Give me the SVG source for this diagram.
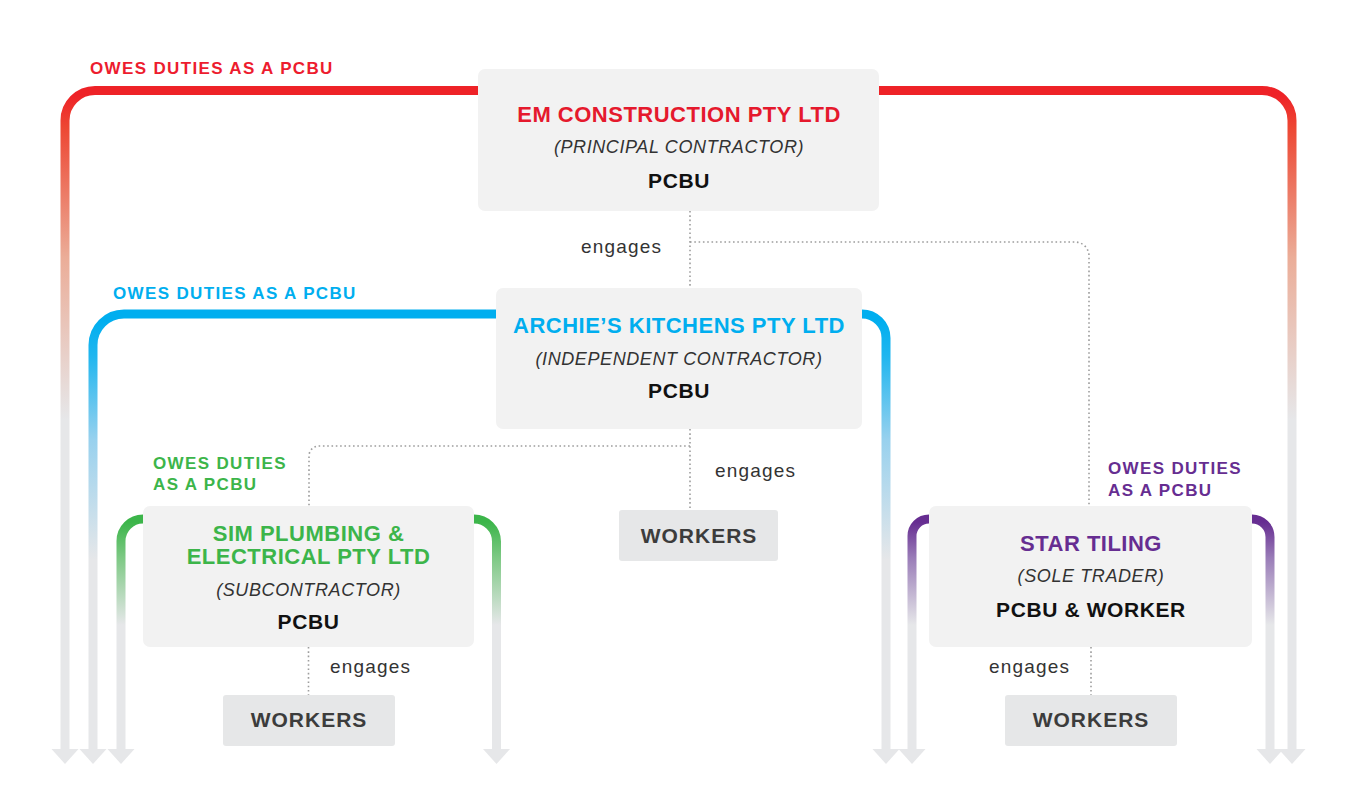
<svg xmlns="http://www.w3.org/2000/svg" width="1362" height="791" viewBox="0 0 1362 791">
<defs>
<linearGradient id="gRed" gradientUnits="userSpaceOnUse" x1="0" y1="95" x2="0" y2="420">
<stop offset="0" stop-color="#ee2227"/><stop offset="0.1" stop-color="#ed4733"/><stop offset="0.5" stop-color="#ebad98"/><stop offset="1" stop-color="#e6e7e9"/>
</linearGradient>
<linearGradient id="gBlue" gradientUnits="userSpaceOnUse" x1="0" y1="320" x2="0" y2="560">
<stop offset="0" stop-color="#00aeef"/><stop offset="0.15" stop-color="#20b6ef"/><stop offset="0.5" stop-color="#98d1ee"/><stop offset="1" stop-color="#e6e7e9"/>
</linearGradient>
<linearGradient id="gGreen" gradientUnits="userSpaceOnUse" x1="0" y1="522" x2="0" y2="625">
<stop offset="0" stop-color="#3cb54a"/><stop offset="0.35" stop-color="#7ec985"/><stop offset="1" stop-color="#e6e7e9"/>
</linearGradient>
<linearGradient id="gPurple" gradientUnits="userSpaceOnUse" x1="0" y1="522" x2="0" y2="625">
<stop offset="0" stop-color="#662d91"/><stop offset="0.35" stop-color="#9a7db8"/><stop offset="1" stop-color="#e6e7e9"/>
</linearGradient>
<polygon id="ah" points="-13.5,0 13.5,0 0,15" fill="#e6e7e9"/>
</defs>
<style>
.duty{fill:none;stroke-width:9}
.dot{fill:none;stroke:#9d9d9d;stroke-width:1.6;stroke-dasharray:1.6 2.7}
.box{fill:#f2f2f2}
.wbox{fill:#e6e7e8}
text{font-family:"Liberation Sans",Arial,sans-serif;text-anchor:middle}
.lbl{font-size:17px;font-weight:bold;letter-spacing:1.35px;text-anchor:start}
.name{font-size:22px;font-weight:bold;letter-spacing:0.5px}
.role{font-size:18px;font-style:italic;fill:#333;letter-spacing:0.6px}
.pcbu{font-size:21px;font-weight:bold;fill:#111;letter-spacing:0.6px}
.wk{font-size:21px;font-weight:bold;fill:#3c3c3c;letter-spacing:1px}
.eng{font-size:19px;fill:#333;letter-spacing:1.2px;text-anchor:start}
</style>
<rect width="1362" height="791" fill="#ffffff"/>

<g id="connectors">
<path class="duty" stroke="url(#gRed)" d="M479,90.5 H95 A30,30 0 0 0 65,120.5 V750"/>
<path class="duty" stroke="url(#gRed)" d="M879,90.5 H1262 A30,30 0 0 1 1292,120.5 V750"/>
<path class="duty" stroke="url(#gBlue)" d="M496,314 H124 A31,31 0 0 0 93,345 V750"/>
<path class="duty" stroke="url(#gBlue)" d="M862,314 A24,24 0 0 1 886,338 V750"/>
<path class="duty" stroke="url(#gGreen)" d="M143,519 A22,22 0 0 0 121,541 V750"/>
<path class="duty" stroke="url(#gGreen)" d="M474,519 A22.5,22.5 0 0 1 496.5,541.5 V750"/>
<path class="duty" stroke="url(#gPurple)" d="M929,519 A17,17 0 0 0 912,536 V750"/>
<path class="duty" stroke="url(#gPurple)" d="M1252,519 A18,18 0 0 1 1270,537 V750"/>
<use href="#ah" x="65" y="749"/>
<use href="#ah" x="93" y="749"/>
<use href="#ah" x="121" y="749"/>
<use href="#ah" x="496.5" y="749"/>
<use href="#ah" x="886" y="749"/>
<use href="#ah" x="912" y="749"/>
<use href="#ah" x="1270" y="749"/>
<use href="#ah" x="1292" y="749"/>
<path class="dot" d="M690,211 V288"/>
<path class="dot" d="M690,242 H1075 A14,14 0 0 1 1089,256 V506"/>
<path class="dot" d="M690,429 V510"/>
<path class="dot" d="M690,446 H319 A10,10 0 0 0 309,456 V506"/>
<path class="dot" d="M308.5,647 V695"/>
<path class="dot" d="M1091,647 V695"/>
<text class="eng" x="581" y="253">engages</text>
<text class="eng" x="715" y="477">engages</text>
<text class="eng" x="330" y="673">engages</text>
<text class="eng" x="989" y="673">engages</text>
<text class="lbl" x="90" y="74" fill="#ed1c2e">OWES DUTIES AS A PCBU</text>
<text class="lbl" x="113" y="299" fill="#00aeef">OWES DUTIES AS A PCBU</text>
<text class="lbl" x="153" y="469" fill="#3cb54a">OWES DUTIES</text>
<text class="lbl" x="153" y="490" fill="#3cb54a">AS A PCBU</text>
<text class="lbl" x="1108" y="474" fill="#662d91">OWES DUTIES</text>
<text class="lbl" x="1108" y="496" fill="#662d91">AS A PCBU</text>
</g>

<g id="em-construction">
<rect class="box" x="478" y="69" width="401" height="142" rx="7"/>
<text class="name" x="679" y="122" fill="#e5192d">EM CONSTRUCTION PTY LTD</text>
<text class="role" x="679" y="153">(PRINCIPAL CONTRACTOR)</text>
<text class="pcbu" x="679" y="188">PCBU</text>
</g>

<g id="archies-kitchens">
<rect class="box" x="496" y="288" width="366" height="141" rx="7"/>
<text class="name" x="679" y="333" fill="#00aeef">ARCHIE’S KITCHENS PTY LTD</text>
<text class="role" x="679" y="365">(INDEPENDENT CONTRACTOR)</text>
<text class="pcbu" x="679" y="398">PCBU</text>
</g>

<g id="sim-plumbing">
<rect class="box" x="143" y="506" width="331" height="141" rx="7"/>
<text class="name" x="308.5" y="541" fill="#3cb54a">SIM PLUMBING &amp;</text>
<text class="name" x="308.5" y="564" fill="#3cb54a">ELECTRICAL PTY LTD</text>
<text class="role" x="308.5" y="596">(SUBCONTRACTOR)</text>
<text class="pcbu" x="308.5" y="629">PCBU</text>
</g>

<g id="star-tiling">
<rect class="box" x="929" y="506" width="323" height="141" rx="7"/>
<text class="name" x="1091" y="551" fill="#662d91">STAR TILING</text>
<text class="role" x="1091" y="582">(SOLE TRADER)</text>
<text class="pcbu" x="1091" y="617">PCBU &amp; WORKER</text>
</g>

<g id="workers-archie">
<rect class="wbox" x="619" y="510" width="159" height="51" rx="3"/>
<text class="wk" x="699" y="543">WORKERS</text>
</g>

<g id="workers-sim">
<rect class="wbox" x="223" y="695" width="172" height="51" rx="3"/>
<text class="wk" x="309" y="727">WORKERS</text>
</g>

<g id="workers-star">
<rect class="wbox" x="1005" y="695" width="172" height="51" rx="3"/>
<text class="wk" x="1091" y="727">WORKERS</text>
</g>
</svg>
